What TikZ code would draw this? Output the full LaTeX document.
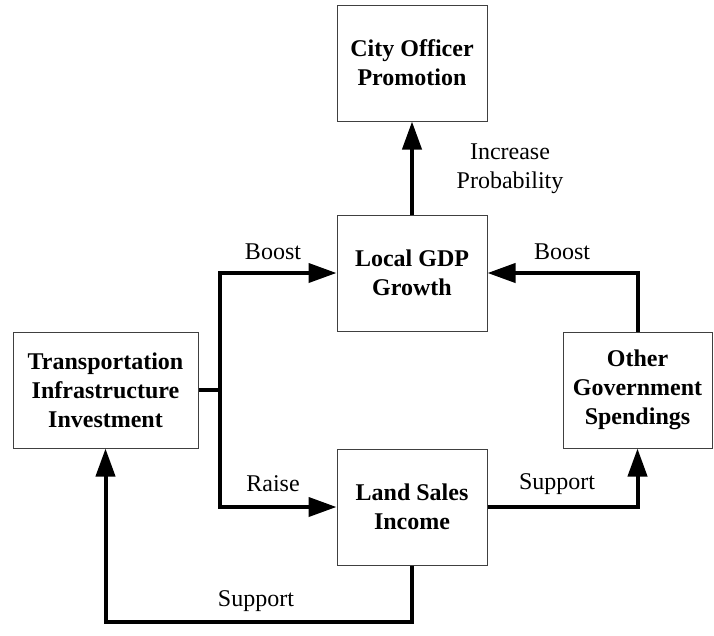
\documentclass[tikz,border=0pt]{standalone}
\usepackage{fontspec}
\setmainfont{Liberation Serif}
\usetikzlibrary{arrows.meta}
\begin{document}
\begin{tikzpicture}[x=1pt,y=-1pt,
  box/.style={draw=black!75,line width=1pt,align=center,inner sep=0pt,
    font=\fontsize{24}{29}\selectfont\bfseries,minimum height=116pt},
  lbl/.style={font=\fontsize{24}{29}\selectfont,align=center,inner sep=0pt},
  conn/.style={line width=4pt,-{Triangle[length=28pt,width=19pt]}},
  plain/.style={line width=4pt}]
\useasboundingbox (0,0) rectangle (714,635);
\node[box,minimum width=150pt] (city) at (412,63) {City Officer\\Promotion};
\node[box,minimum width=150pt] (gdp) at (412,273) {Local GDP\\Growth};
\node[box,minimum width=185pt] (trans) at (105.5,390) {Transportation\\Infrastructure\\Investment};
\node[box,minimum width=149pt] (other) at (637.5,390) {Other\\Government\\Spendings};
\node[box,minimum width=150pt] (land) at (412,507) {Land Sales\\Income};
\coordinate (j) at (220,390);
\draw[plain] (trans.east) -- (j);
\draw[conn] (j) |- (gdp.west);
\draw[conn] (j) |- (land.west);
\draw[conn] (gdp.north) -- (city.south);
\draw[conn] (land.east) -| (other.south);
\draw[conn] (other.north) |- (gdp.east);
\coordinate (b) at (412,622);
\draw[conn] (land.south) -- (b) -| (trans.south);
\node[lbl] (l1) at (510,169) {Increase\\Probability};
\node[lbl] (l2) at (273,252) {Boost};
\node[lbl] (l3) at (562,252) {Boost};
\node[lbl] (l4) at (273,484) {Raise};
\node[lbl] (l5) at (557,484) {Support};
\node[lbl] (l6) at (256,601) {Support};
\end{tikzpicture}
\end{document}
